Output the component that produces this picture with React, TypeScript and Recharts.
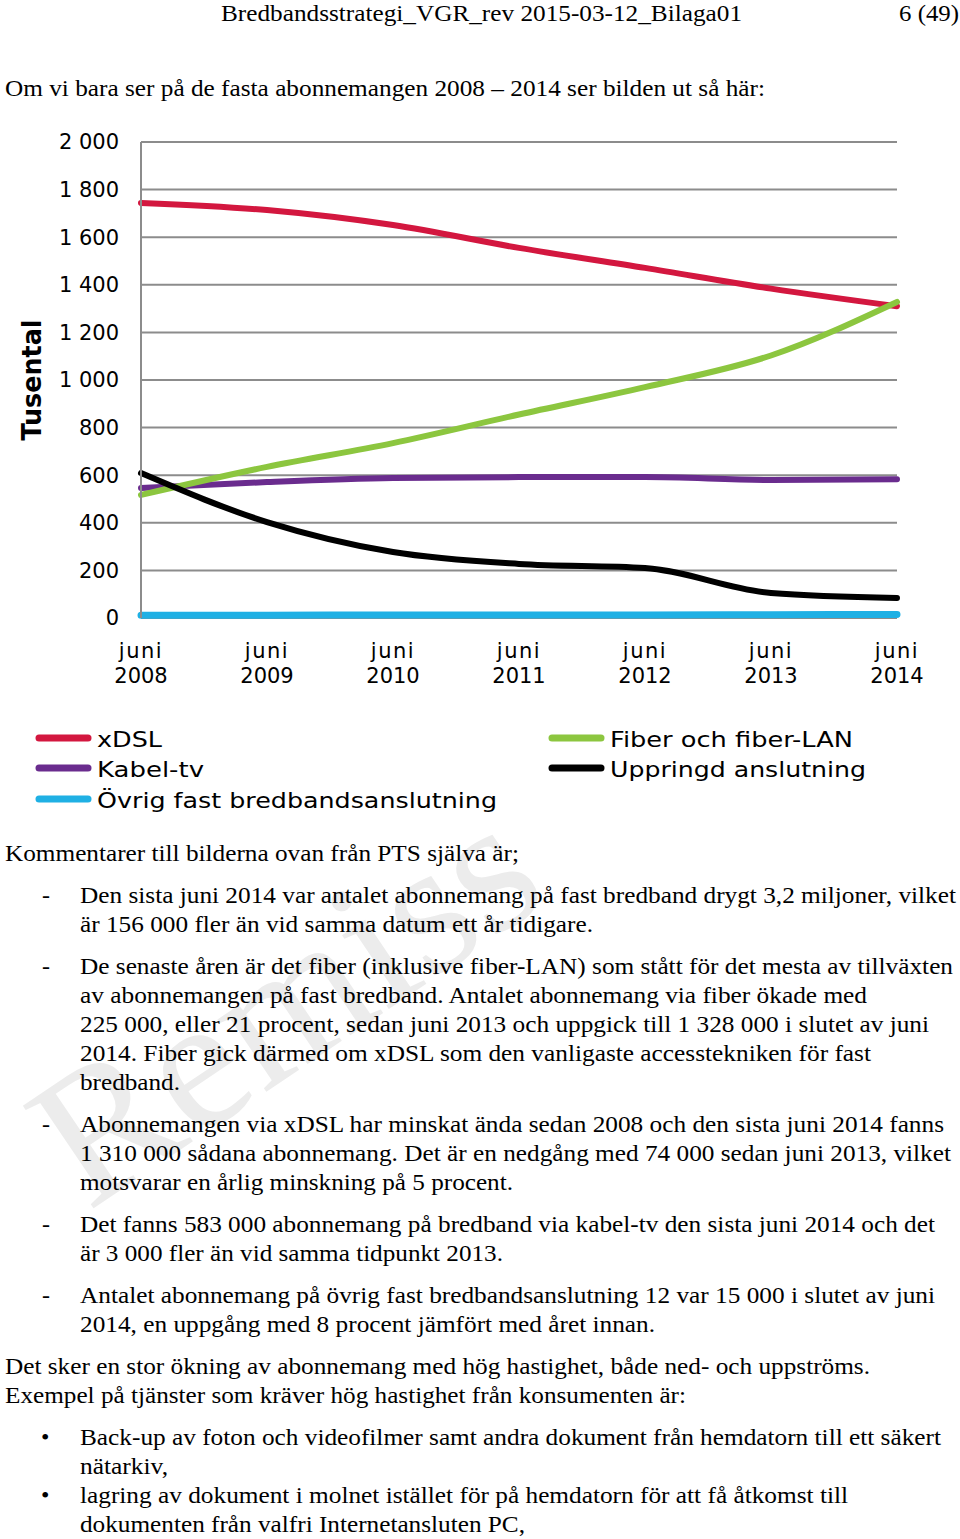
import React from "react";
import { LineChart, Line, XAxis, YAxis, CartesianGrid } from "recharts";

// values in thousands (June each year)
const years = ["2008", "2009", "2010", "2011", "2012", "2013", "2014"];
const xdsl = [1744, 1714, 1651, 1555, 1471, 1384, 1310];
const kabel = [546, 571, 588, 592, 592, 580, 583];
const ovrig = [12, 12, 13, 13, 13, 14, 15];
const fiber = [517, 635, 735, 855, 970, 1103, 1328];
const uppringd = [609, 403, 277, 227, 210, 105, 84];
const yTicks = [0, 200, 400, 600, 800, 1000, 1200, 1400, 1600, 1800, 2000];
const tickMonth = "juni";

const colors = {
  xdsl: "#d3173f",
  kabel: "#6a2c8e",
  ovrig: "#1fb0e4",
  fiber: "#8cc63f",
  uppringd: "#000000",
};

const names = {
  xdsl: "xDSL",
  kabel: "Kabel-tv",
  ovrig: "Övrig fast bredbandsanslutning",
  fiber: "Fiber och fiber-LAN",
  uppringd: "Uppringd anslutning",
};

const data = years.map((year, i) => ({
  year,
  xdsl: xdsl[i],
  kabel: kabel[i],
  ovrig: ovrig[i],
  fiber: fiber[i],
  uppringd: uppringd[i],
}));

const drawOrder = ["xdsl", "kabel", "fiber", "ovrig", "uppringd"] as const;

const SERIF = "Liberation Serif";
const SANS = "DejaVu Sans";

// page text: [text, x, baseline, right edge]
const pageText: [string, number, number, number][] = [
  ["Bredbandsstrategi_VGR_rev 2015-03-12_Bilaga01", 221, 21, 742],
  ["6 (49)", 899, 21, 959],
  ["Om vi bara ser på de fasta abonnemangen 2008 – 2014 ser bilden ut så här:", 5, 96, 765],
  ["Kommentarer till bilderna ovan från PTS själva är;", 5, 861, 519],
  ["Den sista juni 2014 var antalet abonnemang på fast bredband drygt 3,2 miljoner, vilket", 80, 903, 956],
  ["är 156 000 fler än vid samma datum ett år tidigare.", 80, 932, 593],
  ["De senaste åren är det fiber (inklusive fiber-LAN) som stått för det mesta av tillväxten", 80, 974, 953],
  ["av abonnemangen på fast bredband. Antalet abonnemang via fiber ökade med", 80, 1003, 867],
  ["225 000, eller 21 procent, sedan juni 2013 och uppgick till 1 328 000 i slutet av juni", 80, 1032, 929],
  ["2014. Fiber gick därmed om xDSL som den vanligaste accesstekniken för fast", 80, 1061, 871],
  ["bredband.", 80, 1090, 180],
  ["Abonnemangen via xDSL har minskat ända sedan 2008 och den sista juni 2014 fanns", 80, 1132, 944],
  ["1 310 000 sådana abonnemang. Det är en nedgång med 74 000 sedan juni 2013, vilket", 80, 1161, 951],
  ["motsvarar en årlig minskning på 5 procent.", 80, 1190, 513],
  ["Det fanns 583 000 abonnemang på bredband via kabel-tv den sista juni 2014 och det", 80, 1232, 935],
  ["är 3 000 fler än vid samma tidpunkt 2013.", 80, 1261, 503],
  ["Antalet abonnemang på övrig fast bredbandsanslutning 12 var 15 000 i slutet av juni", 80, 1303, 935],
  ["2014, en uppgång med 8 procent jämfört med året innan.", 80, 1332, 655],
  ["Det sker en stor ökning av abonnemang med hög hastighet, både ned- och uppströms.", 5, 1374, 870],
  ["Exempel på tjänster som kräver hög hastighet från konsumenten är:", 5, 1403, 686],
  ["Back-up av foton och videofilmer samt andra dokument från hemdatorn till ett säkert", 80, 1445, 941],
  ["nätarkiv,", 80, 1474, 168],
  ["lagring av dokument i molnet istället för på hemdatorn för att få åtkomst till", 80, 1503, 848],
  ["dokumenten från valfri Internetansluten PC,", 80, 1532, 525],
];
const dashes = [903, 974, 1132, 1232, 1303];
const bullets = [1445, 1503];

// legend: [series key, marker left x, baseline, text right edge]
const legendItems: [keyof typeof names, number, number, number][] = [
  ["xdsl", 35, 747, 162],
  ["kabel", 35, 777, 204],
  ["ovrig", 35, 808, 497],
  ["fiber", 548, 747, 853],
  ["uppringd", 548, 777, 866],
];

const fmt = (v: number) =>
  v >= 1000 ? `${Math.floor(v / 1000)} ${String(v % 1000).padStart(3, "0")}` : String(v);

const XTick = (props: any) => {
  const { x, y, payload } = props;
  return (
    <g style={{ fontFamily: SANS }} fontSize={21} fill="#000" textAnchor="middle">
      <text x={x} y={y + 40} letterSpacing={1.5}>{tickMonth}</text>
      <text x={x} y={y + 65}>{payload.value}</text>
    </g>
  );
};

const YLabel = (props: any) => {
  const vb = props.viewBox || { x: 0, y: 142, height: 476 };
  const cx = vb.x + 41;
  const cy = vb.y + vb.height / 2;
  return (
    <text
      x={cx}
      y={cy}
      transform={`rotate(-90 ${cx} ${cy})`}
      textAnchor="middle"
      style={{ fontFamily: SANS }}
      fontWeight="bold"
      fontSize={26}
      textLength={121}
      lengthAdjust="spacingAndGlyphs"
      fill="#000"
    >
      Tusental
    </text>
  );
};

export default function App() {
  return (
    <div
      style={{
        position: "absolute",
        left: 0,
        top: 0,
        width: 960,
        height: 1539,
        background: "#fff",
        overflow: "hidden",
      }}
    >
      {/* watermark */}
      <svg width={960} height={1539} style={{ position: "absolute", left: 0, top: 0 }}>
        <text
          x={88}
          y={1212}
          style={{ fontFamily: SERIF }}
          fontSize={190}
          fill="#ececec"
          transform="rotate(-34 88 1212)"
        >
          Remiss
        </text>
      </svg>

      <div style={{ position: "absolute", left: 0, top: 120 }}>
        <LineChart
          width={960}
          height={600}
          data={data}
          margin={{ top: 22, right: 63, bottom: 32, left: 0 }}
        >
          <CartesianGrid vertical={false} stroke="#8c8c8c" strokeWidth={2} />
          <XAxis
            dataKey="year"
            height={70}
            interval={0}
            tickLine={false}
            axisLine={false}
            tickSize={0}
            tickMargin={0}
            tick={<XTick />}
          />
          <YAxis
            width={141}
            domain={[0, 2000]}
            ticks={yTicks}
            interval={0}
            tickFormatter={fmt}
            tickLine={false}
            tickSize={0}
            tickMargin={22}
            axisLine={{ stroke: "#8c8c8c", strokeWidth: 2 }}
            tick={{ fill: "#000", fontSize: 21, fontFamily: SANS }}
            label={(p: any) => <YLabel {...p} />}
          />
          {drawOrder.map((k) => (
            <Line
              key={k}
              dataKey={k}
              name={names[k]}
              type="monotone"
              stroke={colors[k]}
              strokeWidth={k === "ovrig" ? 7 : 6}
              strokeLinecap="round"
              dot={false}
              activeDot={false}
              isAnimationActive={false}
            />
          ))}
        </LineChart>
      </div>

      <svg width={960} height={1539} style={{ position: "absolute", left: 0, top: 0 }}>
        {legendItems.map(([k, lx, base, right]) => (
          <g key={k}>
            <line
              x1={lx + 4}
              x2={lx + 53}
              y1={base - 9}
              y2={base - 9}
              stroke={colors[k]}
              strokeWidth={7}
              strokeLinecap="round"
            />
            <text
              x={lx + 62}
              y={base}
              style={{ fontFamily: SANS }}
              fontSize={22}
              textLength={right - lx - 62}
              lengthAdjust="spacingAndGlyphs"
              fill="#000"
            >
              {names[k]}
            </text>
          </g>
        ))}
        {pageText.map(([t, x, y, r], i) => (
          <text
            key={i}
            x={x}
            y={y}
            style={{ fontFamily: SERIF }}
            fontSize={24}
            textLength={r - x}
            lengthAdjust="spacingAndGlyphs"
            fill="#000"
          >
            {t}
          </text>
        ))}
        {dashes.map((y) => (
          <text key={`d${y}`} x={42} y={y} style={{ fontFamily: SERIF }} fontSize={24} fill="#000">
            -
          </text>
        ))}
        {bullets.map((y) => (
          <text key={`b${y}`} x={41} y={y} style={{ fontFamily: SERIF }} fontSize={24} fill="#000">
            •
          </text>
        ))}
      </svg>
    </div>
  );
}
